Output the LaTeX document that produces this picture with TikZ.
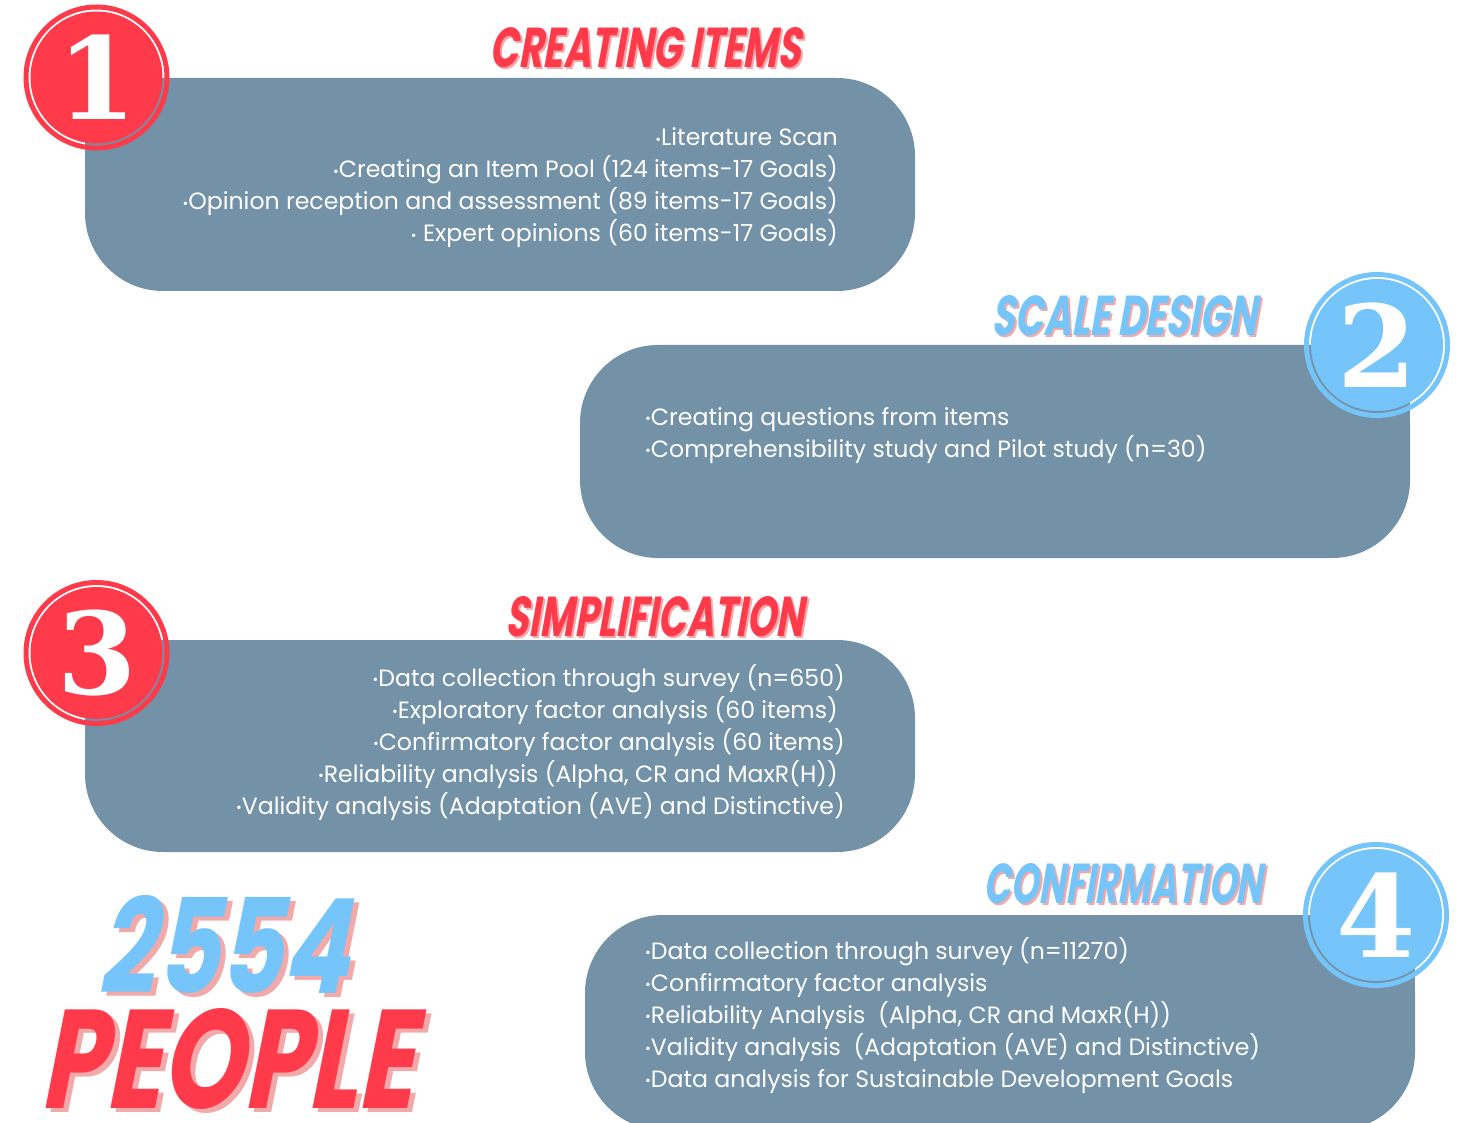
\documentclass[tikz,border=0pt]{standalone}
\usepackage{fontspec}
\usepackage{graphicx}
\setmainfont{Poppins}
\newfontfamily\tfont{Poppins}[FakeSlant=0.2,FakeStretch=0.75]
\newfontfamily\nfont{DejaVu Serif}
\definecolor{boxc}{HTML}{7391A7}
\definecolor{redc}{HTML}{FF3A4A}
\definecolor{bluec}{HTML}{75C5FA}
\definecolor{shad}{HTML}{F2A9A9}
\newcommand\bu{{\fontsize{14}{14}\selectfont\raisebox{1.5pt}{•}}}
\tikzset{
  panel/.style={fill=boxc, rounded corners=78pt},
  txt/.style={text=white, inner sep=0pt, font=\fontsize{23.6}{23.6}\selectfont},
  lr/.style={txt, anchor=base east},
  ll/.style={txt, anchor=base west},
  ttl/.style={inner sep=0pt, font=\tfont\bfseries},
  num/.style={inner sep=0pt, text=white, font=\nfont\bfseries\fontsize{114}{114}\selectfont},
}
\newcommand\badge[2]{%
  \fill[#2, even odd rule] #1 circle (73) circle (68);
  \fill[#2] #1 circle (66);
}
\begin{document}
\begin{tikzpicture}[x=1pt,y=-1pt]
\useasboundingbox[fill=white] (0,0) rectangle (1465,1123);
% panels
\fill[panel] (85,78) rectangle (915,291);
\fill[boxc] (85,78) rectangle (200,200);
\fill[panel] (580,345) rectangle (1410,558);
\fill[boxc] (1300,345) rectangle (1410,450);
\fill[panel] (85,640) rectangle (915,852);
\fill[boxc] (85,640) rectangle (200,760);
\fill[panel] (585,915) rectangle (1415,1130);
\fill[boxc] (1300,915) rectangle (1415,1010);
% badges
\badge{(96.5,77.5)}{redc}
\node[num] (n1) at (97,77) {1};
\badge{(1377,345)}{bluec}
\node[num] (n2) at (1377,345) {2};
\badge{(96.5,653)}{redc}
\node[num] (n3) at (97,653) {3};
\badge{(1376,915)}{bluec}
\node[num] (n4) at (1376,915) {4};
% titles
\node[ttl, text=shad] (t1s) at (647,50) {\resizebox{311pt}{40pt}{CREATING ITEMS}};
\node[ttl, text=redc] (t1) at (645,48) {\resizebox{311pt}{40pt}{CREATING ITEMS}};
\node[ttl, text=shad] (t2s) at (1126,318) {\resizebox{265pt}{40pt}{SCALE DESIGN}};
\node[ttl, text=bluec] (t2) at (1124,316) {\resizebox{265pt}{40pt}{SCALE DESIGN}};
\node[ttl, text=shad] (t3s) at (657,619) {\resizebox{298pt}{40pt}{SIMPLIFICATION}};
\node[ttl, text=redc] (t3) at (655,617) {\resizebox{298pt}{40pt}{SIMPLIFICATION}};
\node[ttl, text=shad] (t4s) at (1125,886) {\resizebox{279pt}{40pt}{CONFIRMATION}};
\node[ttl, text=bluec] (t4) at (1123,884) {\resizebox{279pt}{40pt}{CONFIRMATION}};
% box 1
\node[lr] (a1) at (838,146) {\bu Literature Scan};
\node[lr] (a2) at (838,178) {\bu Creating an Item Pool (124 items-17 Goals)};
\node[lr] (a3) at (838,210) {\bu Opinion reception and assessment (89 items-17 Goals)};
\node[lr] (a4) at (838,242) {\bu\ Expert opinions (60 items-17 Goals)};
% box 2
\node[ll] (b1) at (645,425) {\bu Creating questions from items};
\node[ll] (b2) at (645,457) {\bu Comprehensibility study and Pilot study (n=30)};
% box 3
\node[lr] (c1) at (845,686) {\bu Data collection through survey (n=650)};
\node[lr] (c2) at (838,718) {\bu Exploratory factor analysis (60 items)};
\node[lr] (c3) at (845,750) {\bu Confirmatory factor analysis (60 items)};
\node[lr] (c4) at (838,782) {\bu Reliability analysis (Alpha, CR and MaxR(H))};
\node[lr] (c5) at (845,814) {\bu Validity analysis (Adaptation (AVE) and Distinctive)};
% box 4
\node[ll] (d1) at (645,959) {\bu Data collection through survey (n=11270)};
\node[ll] (d2) at (645,991) {\bu Confirmatory factor analysis};
\node[ll] (d3) at (645,1023) {\bu Reliability Analysis\ \ (Alpha, CR and MaxR(H))};
\node[ll] (d4) at (645,1055) {\bu Validity analysis\ \ (Adaptation (AVE) and Distinctive)};
\node[ll] (d5) at (645,1087) {\bu Data analysis for Sustainable Development Goals};
% big text
\node[ttl, text=shad] (bigas) at (228,948) {\resizebox{250pt}{98pt}{2554}};
\node[ttl, text=bluec] (biga) at (223,944) {\resizebox{250pt}{98pt}{2554}};
\node[ttl, text=shad] (bigbs) at (231,1063) {\resizebox{373pt}{100pt}{PEOPLE}};
\node[ttl, text=redc] (bigb) at (226,1059) {\resizebox{373pt}{100pt}{PEOPLE}};
\end{tikzpicture}
\end{document}
